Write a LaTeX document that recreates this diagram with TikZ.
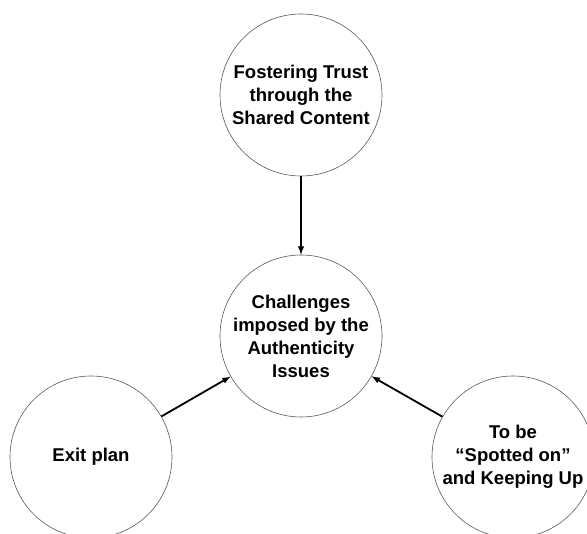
\documentclass[tikz,border=0pt]{standalone}
\usepackage{fontspec}
\setmainfont{Liberation Sans}
\tikzset{
    bubble/.style={circle, draw=gray!70!black, line width=0.6pt, minimum size=162pt, inner sep=0pt, align=center, font=\fontsize{18.5}{23}\selectfont\bfseries},
    link/.style={-latex, line width=1.8pt}
}
\begin{document}
\begin{tikzpicture}[x=1pt, y=-1pt]
        \useasboundingbox (0,0) rectangle (587,534);
        \clip (0,0) rectangle (587,534);
        %circles
        \node[bubble] (trust) at (301,95) {Fostering Trust\\through the\\Shared Content};
        \node[bubble] (challenges) at (301,336) {Challenges\\imposed by the\\Authenticity\\Issues};
        \node[bubble] (exit) at (91,457) {Exit plan};
        \node[bubble] (spotted) at (513,457) {To be\\``Spotted on''\\and Keeping Up};

        %arrows
        \draw[link](trust)--(challenges);
        \draw[link](exit)--(challenges);
        \draw[link](spotted)--(challenges);
    \end{tikzpicture}
\end{document}
